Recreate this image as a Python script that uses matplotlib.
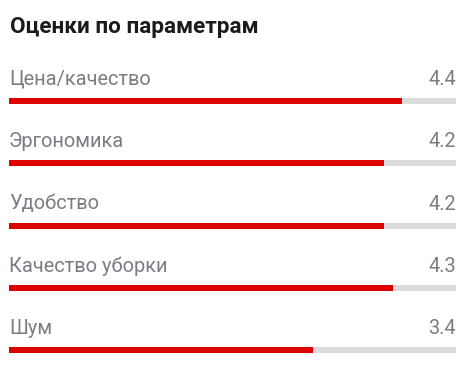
import matplotlib
matplotlib.use("Agg")
import matplotlib.pyplot as plt

categories = ["Цена/качество", "Эргономика", "Удобство", "Качество уборки", "Шум"]
scores = [4.4, 4.2, 4.2, 4.3, 3.4]
max_score = 5.0
title = "Оценки по параметрам"

W, H = 474, 368
fig = plt.figure(figsize=(W / 100, H / 100), dpi=100)
fig.patch.set_facecolor("white")

# axes spans the track horizontally; rows are indexed vertically
left_px, right_px = 9, 456
first_bar_px, row_step_px = 101, 62.25
ax = fig.add_axes([left_px / W, 0, (right_px - left_px) / W, 1])
ax.set_xlim(0, max_score)
ax.set_ylim((H - first_bar_px) / row_step_px, -first_bar_px / row_step_px)
ax.axis("off")

bar_h = 6 / row_step_px
label_off = 21.5 / row_step_px
ys = list(range(len(categories)))

ax.barh(ys, [max_score] * len(ys), height=bar_h, left=0, color="#dcdcde", linewidth=0)
ax.barh(ys, scores, height=bar_h, left=0, color="#dd0000", linewidth=0)

for y, name, val in zip(ys, categories, scores):
    ax.text(0, y - label_off, name, ha="left", va="center", fontsize=14.4,
            family="Roboto", color="#7a7e84")
    ax.text(max_score, y - label_off, f"{val:.1f}", ha="right", va="center",
            fontsize=14.4, family="Roboto", color="#7a7e84")

fig.text(10 / W, 1 - 26.5 / H, title, ha="left", va="center", fontsize=16.2,
         family="Roboto", fontweight="bold", color="#1b1b1b")

fig.savefig("out.png", dpi=100, facecolor="white")
